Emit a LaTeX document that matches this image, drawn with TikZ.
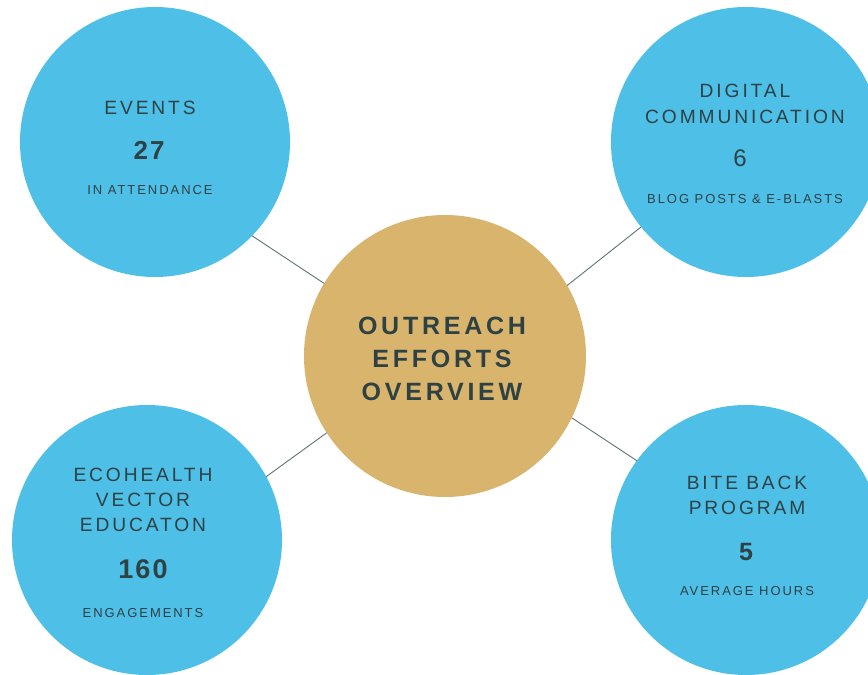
\documentclass[tikz,border=0pt]{standalone}
\usepackage{fontspec}
\setmainfont{Liberation Sans}
\newfontfamily\spacedfont[LetterSpace=15]{Liberation Sans}
\newfontfamily\digitfont[LetterSpace=8]{Liberation Sans}
\usetikzlibrary{calc}

\definecolor{skyfill}{HTML}{4EBFE7}
\definecolor{goldfill}{HTML}{D9B46C}
\definecolor{inkgray}{HTML}{2E4143}
\definecolor{linkgray}{HTML}{5F7573}

\tikzset{
  bubble/.style={circle,fill=skyfill,minimum size=270pt,inner sep=0pt},
  hub/.style={circle,fill=goldfill,minimum size=282pt,inner sep=0pt},
  ttl/.style={text=inkgray,inner sep=0pt,font=\spacedfont\fontsize{19.2}{19.2}\selectfont},
  num/.style={text=inkgray,inner sep=0pt,font=\digitfont\bfseries\fontsize{26}{26}\selectfont},
  unit/.style={text=inkgray,inner sep=0pt,font=\spacedfont\fontsize{13}{13}\selectfont},
  hubttl/.style={text=inkgray,inner sep=0pt,font=\spacedfont\bfseries\fontsize{25}{25}\selectfont},
  link/.style={draw=linkgray,line width=0.9pt}
}

\begin{document}
\begin{tikzpicture}[x=1pt,y=-1pt,line cap=round,line join=round]
                \useasboundingbox (0,0) rectangle (868,675);
                \clip (0,0) rectangle (868,675);
                \fill[white] (0,0) rectangle (868,675);
                \node[bubble] (ev) at (155,142) {};
                \node[bubble] (dc) at (746,142) {};
                \node[hub] (ctr) at (445,356) {};
                \node[bubble] (eco) at (147,540) {};
                \node[bubble] (bb) at (746,540) {};
                \draw[link] (ev.-44)-- (ctr.149);
                \draw[link] (dc.219)-- (ctr.30);
                \draw[link] (eco.28)-- (ctr.213);
                \draw[link] (bb.144)-- (ctr.-26);
                \node[hubttl] (ctrA) at (442,326) {OUTREACH};
                \node[hubttl] (ctrB) at (442,359) {EFFORTS};
                \node[hubttl] (ctrC) at (442,392) {OVERVIEW};
                \node[ttl] (evT) at (150,108) {EVENTS};
                \node[num] (evN) at (149,150) {27};
                \node[unit] (evU) at (150,190) {IN ATTENDANCE};
                \node[ttl] (dcT) at (745,91) {DIGITAL};
                \node[ttl] (dcS) at (745,117) {COMMUNICATION};
                \node[num,font=\digitfont\fontsize{24}{24}\selectfont] (dcN) at (740,158) {6};
                \node[unit] (dcU) at (745,199) {BLOG POSTS \& E-BLASTS};
                \node[ttl] (ecoT) at (143,475) {ECOHEALTH};
                \node[ttl] (ecoS) at (143,500) {VECTOR};
                \node[ttl] (ecoR) at (143,525) {EDUCATON};
                \node[num,font=\digitfont\bfseries\fontsize{27}{27}\selectfont] (ecoN) at (143,569) {160};
                \node[unit] (ecoU) at (143,613) {ENGAGEMENTS};
                \node[ttl] (bbT) at (747,483) {BITE BACK};
                \node[ttl] (bbS) at (747,508) {PROGRAM};
                \node[num,font=\digitfont\bfseries\fontsize{25}{25}\selectfont] (bbN) at (746,552) {5};
                \node[unit] (bbU) at (747,591) {AVERAGE HOURS};
            \end{tikzpicture}
\end{document}
